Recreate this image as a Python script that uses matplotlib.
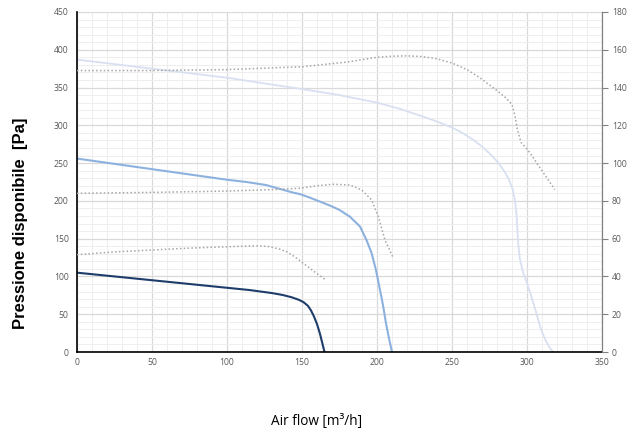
import matplotlib
matplotlib.use("Agg")
import matplotlib.pyplot as plt

# ---- data ----
# Pressure curves (left axis, Pa)
c1_x = [0, 50, 100, 115, 130, 137, 143, 148, 151, 154, 156, 158, 160, 162, 163.5, 165]
c1_y = [105, 95, 85, 82, 78, 75.5, 72.5, 69, 66, 61, 55, 47, 37, 24, 12, 0]

c2_x = [0, 50, 100, 113, 126, 135, 144, 148.7, 155, 162, 169, 175, 182, 188.7, 193,
        196.4, 199.3, 202, 204, 206, 208, 210]
c2_y = [256, 242, 228, 225, 221, 216, 211, 209, 204.5, 199, 193.5, 188, 179, 166, 148,
        131, 108.5, 82, 62, 38, 18, 0]

c3_x = [0, 50, 100, 150, 175, 200, 215, 230, 240, 250, 257, 264, 270, 276, 281, 285,
        288, 290.5, 292, 293, 293.6, 294.2, 295.2, 297, 300, 303, 306, 309, 312, 315, 317.5]
c3_y = [387, 375, 363, 348, 340, 330, 322, 312, 305, 297, 290, 281, 272, 261, 250, 239,
        228, 215, 200, 182, 162, 142, 124, 108, 91, 73, 53, 32, 17, 6, 0]

# Power curves (right axis), dotted
p1_x = [0, 25, 50, 75, 100, 110, 120, 128, 135, 140, 145, 150, 155, 160, 166]
p1_y = [51.5, 53, 54, 55, 55.7, 56, 56.2, 55.8, 54.5, 53, 50.5, 47.5, 44.5, 41.5, 38]

p2_x = [0, 50, 100, 131, 148.7, 160, 171, 182, 189.8, 196.4, 200.9, 205.3, 211]
p2_y = [84, 84.5, 85.2, 86, 86.7, 88, 88.8, 88.4, 85.8, 80.5, 71.6, 59.3, 49.6]

p3_x = [0, 50, 100, 150, 180, 190, 200, 210, 220, 230, 240, 250, 260, 268, 279, 286,
        290, 292, 293.5, 296, 301, 310, 318.5]
p3_y = [149, 149, 149.5, 151, 153.5, 154.8, 156, 156.6, 156.8, 156.4, 155.2, 153, 149.5,
        145.5, 139, 134.5, 131, 125, 118, 111, 106.5, 96, 86]

x_ticks = [0, 50, 100, 150, 200, 250, 300, 350]
y_ticks = [0, 50, 100, 150, 200, 250, 300, 350, 400, 450]
y2_ticks = [0, 20, 40, 60, 80, 100, 120, 140, 160, 180]

# ---- figure ----
W, H = 632, 432
fig = plt.figure(figsize=(W / 100, H / 100), dpi=100)
ax = fig.add_axes([77 / W, 80 / H, 525 / W, 340 / H])
ax2 = ax.twinx()

tick_font = dict(family="Open Sans", size=6.2, color="#595959")

ax.set_xlim(0, 350)
ax.set_ylim(0, 450)
ax2.set_ylim(0, 180)

ax.set_xticks(x_ticks)
ax.set_xticks(range(0, 351, 10), minor=True)
ax.set_yticks(y_ticks)
ax.set_yticks(range(0, 451, 10), minor=True)
ax2.set_yticks(y2_ticks)

ax.grid(which="minor", color="#EEEEEE", lw=0.7)
ax.grid(which="major", color="#D9D9D9", lw=0.9)
ax.set_axisbelow(True)

ax.tick_params(which="both", length=0)
ax.tick_params(axis="y", pad=6)
ax.tick_params(axis="x", pad=4)
for lab in ax.get_xticklabels() + ax.get_yticklabels():
    lab.set_fontfamily(tick_font["family"])
    lab.set_fontsize(tick_font["size"])
    lab.set_color(tick_font["color"])

ax2.tick_params(axis="y", length=4, width=0.8, color="#808080", pad=3, direction="out")
for lab in ax2.get_yticklabels():
    lab.set_fontfamily(tick_font["family"])
    lab.set_fontsize(tick_font["size"])
    lab.set_color(tick_font["color"])

for s in ["top", "right"]:
    ax.spines[s].set_visible(False)
for s in ["top", "left", "bottom"]:
    ax2.spines[s].set_visible(False)
ax.spines["left"].set_color("black")
ax.spines["left"].set_linewidth(1.2)
ax.spines["bottom"].set_color("black")
ax.spines["bottom"].set_linewidth(1.2)
ax2.spines["right"].set_color("#808080")
ax2.spines["right"].set_linewidth(0.9)

# pressure curves
ax.plot(c3_x, c3_y, color="#D8E0F1", lw=1.3, solid_capstyle="round", solid_joinstyle="round")
ax.plot(c2_x, c2_y, color="#8DB1DF", lw=1.5, solid_capstyle="round", solid_joinstyle="round")
ax.plot(c1_x, c1_y, color="#1F3D6B", lw=1.5, solid_capstyle="round", solid_joinstyle="round")

# power curves
for px, py in [(p1_x, p1_y), (p2_x, p2_y), (p3_x, p3_y)]:
    ax2.plot(px, py, color="#A6A6A6", lw=1.1, linestyle=(0, (1, 1.5)))

fig.text(21 / W, 1 - 223 / H, "Pressione disponibile  [Pa]", rotation=90,
         ha="center", va="center", fontsize=12, fontweight="bold",
         family="Liberation Sans", color="black")
fig.text(317 / W, 1 - 421 / H, "Air flow [m³/h]", ha="center", va="center",
         fontsize=9.8, family="Open Sans", color="black")

fig.savefig("out.png", dpi=100)
